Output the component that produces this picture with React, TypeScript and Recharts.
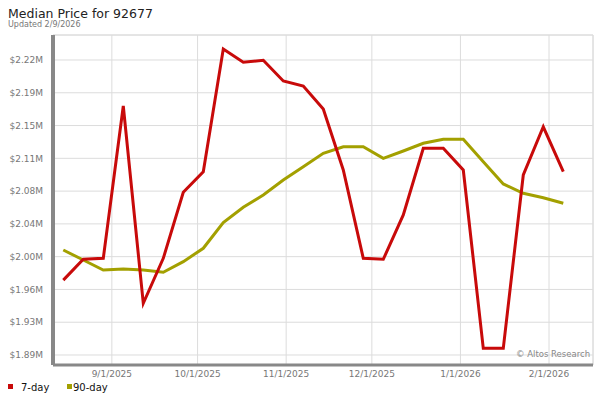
import React from "react";
import {
  LineChart,
  Line,
  XAxis,
  YAxis,
  CartesianGrid,
  ReferenceLine,
} from "recharts";

const RED = "#c80a0a";
const OLIVE = "#a3a000";
const FONT = "DejaVu Sans";

// weekly points
const dates = [
  "8/15/2025", "8/22/2025", "8/29/2025", "9/5/2025", "9/12/2025", "9/19/2025",
  "9/26/2025", "10/3/2025", "10/10/2025", "10/17/2025", "10/24/2025", "10/31/2025",
  "11/7/2025", "11/14/2025", "11/21/2025", "11/28/2025", "12/5/2025", "12/12/2025",
  "12/19/2025", "12/26/2025", "1/2/2026", "1/9/2026", "1/16/2026", "1/23/2026",
  "1/30/2026", "2/6/2026",
];

const sevenDay = [
  1975000, 1998600, 1999700, 2172600, 1948700, 1999700, 2074700, 2098000,
  2237300, 2222200, 2224500, 2201000, 2195300, 2169200, 2100000, 1999700,
  1998600, 2048900, 2124600, 2124600, 2100000, 1897600, 1897600, 2094300,
  2149000, 2098000,
];

const ninetyDay = [
  2009200, 1997800, 1986500, 1987600, 1986500, 1983900, 1995900, 2011100,
  2040200, 2057600, 2071600, 2088600, 2103700, 2118900, 2126400, 2126400,
  2113200, 2121500, 2130300, 2134800, 2134800, 2109400, 2084100, 2073500,
  2068500, 2062200,
];

const xTickLabels = ["9/1/2025", "10/1/2025", "11/1/2025", "12/1/2025", "1/1/2026", "2/1/2026"];

const yTicks = [
  1890000, 1927200, 1964400, 2001600, 2038800, 2076000, 2113200, 2150400,
  2187600, 2224800,
];

const DAY = 86400000;
const toTime = (s: string) => {
  const [m, d, y] = s.split("/").map(Number);
  return Date.UTC(y, m - 1, d);
};

const data = dates.map((d, i) => ({
  t: toTime(d),
  sevenDay: sevenDay[i],
  ninetyDay: ninetyDay[i],
}));

const xStart = toTime("8/15/2025") - 3.6 * DAY;
const xEnd = xStart + 189 * DAY;
const yMin = 1878650;
const yMax = 2253170;

const fmtDate = (v: number) => {
  const d = new Date(v);
  return `${d.getUTCMonth() + 1}/${d.getUTCDate()}/${d.getUTCFullYear()}`;
};
const fmtPrice = (v: number) => `$${(v / 1e6).toFixed(2)}M`;

const App = () => {
  return (
    <div
      style={{
        position: "absolute",
        left: 0,
        top: 0,
        width: 600,
        height: 400,
        background: "#fff",
        fontFamily: FONT,
      }}
    >
      <LineChart
        width={600}
        height={400}
        data={data}
        margin={{ top: 35, right: 7, bottom: 10, left: 0 }}
        style={{ position: "absolute", left: 0, top: 0 }}
      >
        <CartesianGrid stroke="#dcdcdc" strokeWidth={1} />
        <ReferenceLine y={yMax} stroke="#dcdcdc" />
        <ReferenceLine x={xEnd} stroke="#dcdcdc" />
        <XAxis
          dataKey="t"
          type="number"
          scale="time"
          domain={[xStart, xEnd]}
          allowDataOverflow
          ticks={xTickLabels.map(toTime)}
          tickFormatter={fmtDate}
          height={25}
          tickLine={false}
          tickSize={0}
          tickMargin={6}
          axisLine={{ stroke: "#888", strokeWidth: 3 }}
          tick={{ fontSize: 9, fill: "#777", fontFamily: FONT }}
          interval={0}
        />
        <YAxis
          type="number"
          domain={[yMin, yMax]}
          allowDataOverflow
          ticks={yTicks}
          tickFormatter={fmtPrice}
          width={53}
          tickLine={false}
          tickSize={0}
          tickMargin={10}
          axisLine={{ stroke: "#888", strokeWidth: 4 }}
          tick={{ fontSize: 9, fill: "#777", fontFamily: FONT }}
          interval={0}
        />
        <Line
          type="linear"
          dataKey="ninetyDay"
          stroke={OLIVE}
          strokeWidth={3}
          dot={false}
          isAnimationActive={false}
        />
        <Line
          type="linear"
          dataKey="sevenDay"
          stroke={RED}
          strokeWidth={3}
          dot={false}
          isAnimationActive={false}
        />
      </LineChart>
      <svg
        width={600}
        height={400}
        style={{ position: "absolute", left: 0, top: 0, pointerEvents: "none" }}
        fontFamily={FONT}
      >
        <text x={8} y={18} fontSize={12.5} fill="#222">
          Median Price for 92677
        </text>
        <text x={8} y={27} fontSize={8} fill="#777">
          Updated 2/9/2026
        </text>
        <text x={516} y={357} fontSize={8.5} fill="#888">
          © Altos Research
        </text>
        <rect x={8} y={384} width={5} height={5} fill={RED} />
        <text x={21} y={390.5} fontSize={10} fill="#111">
          7-day
        </text>
        <rect x={67} y={384} width={5} height={5} fill={OLIVE} />
        <text x={73} y={390.5} fontSize={10} fill="#111">
          90-day
        </text>
      </svg>
    </div>
  );
};

export default App;
